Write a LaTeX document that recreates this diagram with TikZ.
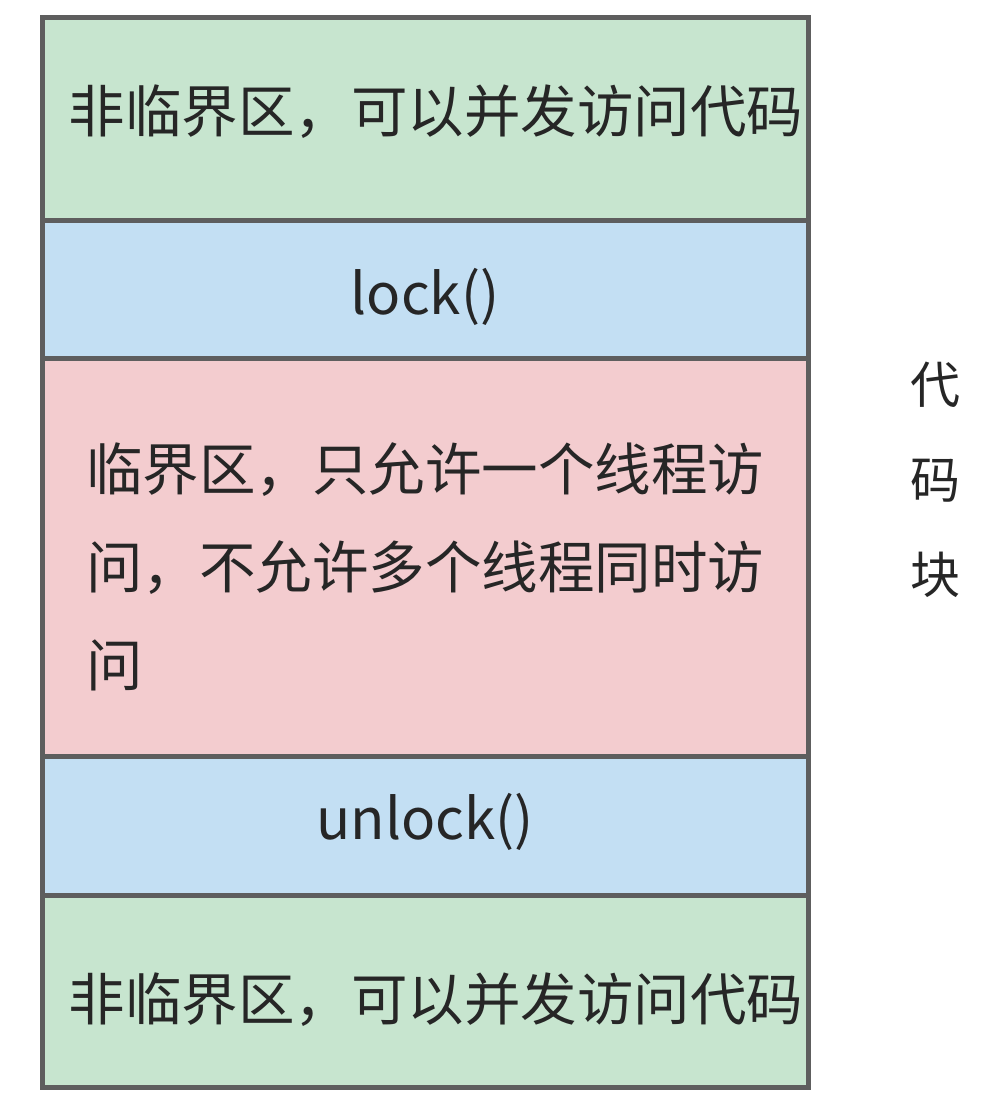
\documentclass[tikz,border=0pt]{standalone}
\usepackage{fontspec}
\setmainfont{Noto Sans CJK SC}
\usepackage{tikz}

\definecolor{freegreen}{HTML}{C7E5CF}
\definecolor{lockblue}{HTML}{C3DFF3}
\definecolor{critred}{HTML}{F3CCCF}
\definecolor{edgegray}{HTML}{5E5E5E}
\definecolor{inkgray}{HTML}{262626}

\tikzset{
  block/.style={rectangle, draw=edgegray, line width=5pt, minimum width=766pt, inner sep=0pt},
  blocktext/.style={text=inkgray, inner sep=0pt, font=\fontsize{56.5}{98}\selectfont},
  sidelabel/.style={text=inkgray, font=\fontsize{50}{95}\selectfont, align=center}
}

\begin{document}
\begin{tikzpicture}[x=1pt, y=-1pt]
                \useasboundingbox (0,0) rectangle (1005,1103);

                % Blocks
                \node[block, fill=freegreen, minimum height=203pt] (free1) at (425,118.5) {};
                \node[block, fill=lockblue, minimum height=138pt] (lock) at (425,289) {};
                \node[block, fill=critred, minimum height=398pt] (crit) at (425,557) {};
                \node[block, fill=lockblue, minimum height=139pt] (unlock) at (425,825.5) {};
                \node[block, fill=freegreen, minimum height=192pt] (free2) at (425,991) {};

                % Texts
                \node[blocktext] (free1text) at (436,112) {非临界区，可以并发访问代码};
                \node[blocktext] (locktext) at (425,297) {lock()};
                \node[blocktext, anchor=west, align=left] (crittext) at (86,567) {临界区，只允许一个线程访\\问，不允许多个线程同时访\\问};
                \node[blocktext] (unlocktext) at (425,822) {unlock()};
                \node[blocktext] (free2text) at (436,1000) {非临界区，可以并发访问代码};

                % Label
                \node[sidelabel] (code) at (935,480) {代\\码\\块};
            \end{tikzpicture}
\end{document}
